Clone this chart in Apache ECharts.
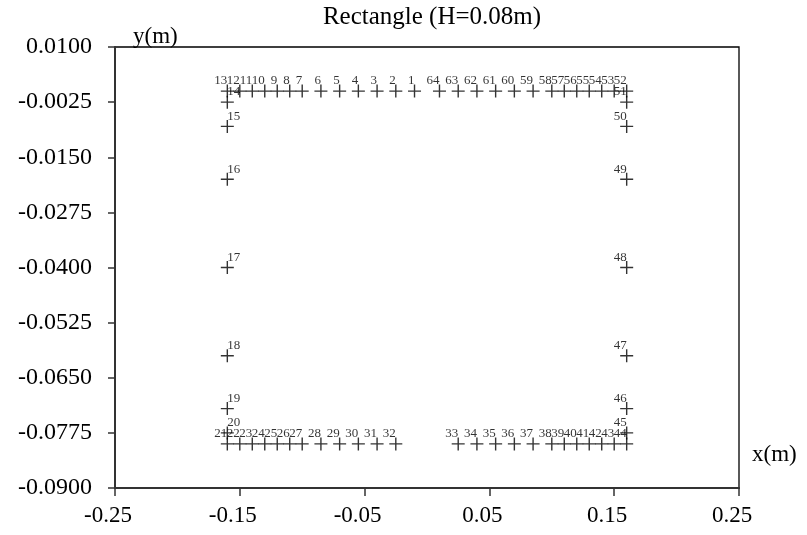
<!DOCTYPE html>
<html>
<head>
<meta charset="utf-8">
<script src="https://cdn.jsdelivr.net/npm/echarts@6/dist/echarts.min.js"></script>
<style>
  html, body { margin: 0; padding: 0; background: #fff; }
  #chart { width: 807px; height: 535px; }
</style>
</head>
<body>
<div id="chart"></div>
<script>
// Section outline of the rectangle (m)
const xLeft = -0.16, xRight = 0.16;
const yTop = 0.0, yBottom = -0.08;

// Top edge, points 1..13 (from the centre towards the left corner)
const topLeftX = [-0.01, -0.025, -0.04, -0.055, -0.07, -0.085, -0.10, -0.11, -0.12, -0.13, -0.14, -0.15, -0.16];
// Left edge, points 14..20 (top to bottom)
const leftY = [-0.0025, -0.008, -0.02, -0.04, -0.06, -0.072, -0.0775];
// Bottom edge, points 21..32 (left corner towards the centre)
const bottomLeftX = [-0.16, -0.15, -0.14, -0.13, -0.12, -0.11, -0.10, -0.085, -0.07, -0.055, -0.04, -0.025];
// Bottom edge, points 33..44 (centre towards the right corner)
const bottomRightX = [0.025, 0.04, 0.055, 0.07, 0.085, 0.10, 0.11, 0.12, 0.13, 0.14, 0.15, 0.16];
// Right edge, points 45..51 (bottom to top)
const rightY = [-0.0775, -0.072, -0.06, -0.04, -0.02, -0.008, -0.0025];
// Top edge, points 52..64 (right corner towards the centre)
const topRightX = [0.16, 0.15, 0.14, 0.13, 0.12, 0.11, 0.10, 0.085, 0.07, 0.055, 0.04, 0.025, 0.01];

const SERIF = '"Liberation Serif", "Times New Roman", serif';

// Label placement for each edge
const labelStyles = {
  row:   { position: 'top', align: 'right', offset: [4, 0], distance: -3.5 },
  left:  { position: 'top', align: 'left', distance: -3.5 },
  right: { position: 'top', align: 'right', distance: -3.5 }
};

const points = [];
let id = 1;
function add(x, y, side) {
  points.push({ value: [x, y], name: String(id++), label: labelStyles[side] });
}
topLeftX.forEach(x => add(x, yTop, 'row'));
leftY.forEach(y => add(xLeft, y, 'left'));
bottomLeftX.forEach(x => add(x, yBottom, 'row'));
bottomRightX.forEach(x => add(x, yBottom, 'row'));
rightY.forEach(y => add(xRight, y, 'right'));
topRightX.forEach(x => add(x, yTop, 'row'));

const chart = echarts.init(document.getElementById('chart'), null, { renderer: 'canvas' });

chart.setOption({
  animation: false,
  backgroundColor: '#fff',
  title: {
    text: 'Rectangle (H=0.08m)',
    left: 427,
    top: 0,
    textAlign: 'center',
    textStyle: { fontFamily: SERIF, fontSize: 25, fontWeight: 'normal', color: '#000' }
  },
  graphic: [{
    type: 'text',
    left: 752,
    top: 443,
    style: { text: 'x(m)', font: '23px ' + SERIF, fill: '#000' }
  }],
  grid: {
    left: 115, right: 68, top: 47, bottom: 47,
    show: true, borderColor: '#000', borderWidth: 1.3, backgroundColor: 'transparent'
  },
  xAxis: {
    type: 'value',
    min: -0.25, max: 0.25, interval: 0.1,
    axisLine: { show: true, onZero: false, lineStyle: { color: '#333', width: 2 } },
    axisTick: { show: true, inside: false, length: 8, lineStyle: { color: '#333', width: 1.5 } },
    axisLabel: {
      fontFamily: SERIF, fontSize: 23, color: '#000', margin: 16,
      padding: [0, 14, 0, 0],
      formatter: v => v.toFixed(2)
    },
    splitLine: { show: false }
  },
  yAxis: {
    type: 'value',
    min: -0.09, max: 0.01, interval: 0.0125,
    name: 'y(m)',
    nameLocation: 'end',
    nameGap: 10,
    nameTextStyle: {
      fontFamily: SERIF, fontSize: 23, color: '#000',
      align: 'left', verticalAlign: 'middle', padding: [0, 0, 0, 18]
    },
    axisLine: { show: true, onZero: false, lineStyle: { color: '#333', width: 2 } },
    axisTick: { show: true, inside: false, length: 7, lineStyle: { color: '#333', width: 1.5 } },
    axisLabel: {
      fontFamily: SERIF, fontSize: 24, color: '#000', margin: 23,
      formatter: v => v.toFixed(4)
    },
    splitLine: { show: false }
  },
  series: [{
    type: 'scatter',
    data: points,
    symbol: 'path://M0 6H12M6 0V12',
    symbolSize: [13, 13],
    itemStyle: { color: 'rgba(0,0,0,0)', borderColor: '#000', borderWidth: 1.4 },
    label: {
      show: true,
      formatter: p => p.name,
      fontFamily: SERIF, fontSize: 13, color: '#000'
    },
    labelLayout: { hideOverlap: false },
    emphasis: { disabled: true }
  }]
});
</script>
</body>
</html>
